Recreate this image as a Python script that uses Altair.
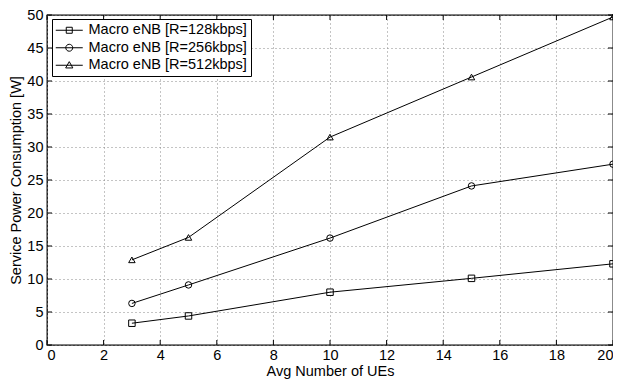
import altair as alt
import pandas as pd

# ---- data ----
x_vals = [3, 5, 10, 15, 20]
p128 = [3.3, 4.4, 8.0, 10.1, 12.3]
p256 = [6.3, 9.1, 16.2, 24.1, 27.4]
p512 = [12.9, 16.3, 31.5, 40.6, 49.7]
series = ["Macro eNB [R=128kbps]", "Macro eNB [R=256kbps]", "Macro eNB [R=512kbps]"]
x_ticks = [0, 2, 4, 6, 8, 10, 12, 14, 16, 18, 20]
y_ticks = [0, 5, 10, 15, 20, 25, 30, 35, 40, 45, 50]

rows = []
for name, vals in zip(series, [p128, p256, p512]):
    for xv, yv in zip(x_vals, vals):
        rows.append({"ues": xv, "power": yv, "series": name})
df = pd.DataFrame(rows)
xt = pd.DataFrame({"ues": x_ticks})
yt = pd.DataFrame({"power": y_ticks})

W, H = 566, 330
FONT = "Liberation Sans"
FS = 14.5
TICK = 5

xscale = alt.Scale(domain=[0, 20], nice=False, zero=False)
yscale = alt.Scale(domain=[0, 50], nice=False, zero=False)

x_axis = alt.Axis(values=x_ticks, title="Avg Number of UEs", labelPadding=3, titlePadding=3)
y_axis = alt.Axis(values=y_ticks, title="Service Power Consumption [W]", labelPadding=4, titlePadding=3)

X = alt.X("ues:Q", scale=xscale, axis=x_axis)
Y = alt.Y("power:Q", scale=yscale, axis=y_axis)

base = alt.Chart(df)

lines = base.mark_line(color="black", strokeWidth=1).encode(x=X, y=Y, detail="series:N")

marker_shapes = ["square", "circle", "triangle-up"]
points = base.mark_point(filled=False, color="black", strokeWidth=1, size=42, opacity=1).encode(
    x=X, y=Y,
    shape=alt.Shape("series:N", scale=alt.Scale(domain=series, range=marker_shapes), legend=None),
)

# legend symbols: short line with the marker on it (unit = 6 px for size 144)
legend_paths = [
    "M-2.25,0H2.25M-0.5,-0.5H0.5V0.5H-0.5Z",
    "M-2.25,0H2.25M-0.58,0A0.58,0.58 0 1,0 0.58,0A0.58,0.58 0 1,0 -0.58,0Z",
    "M-2.25,0H2.25M0,-0.6L0.6,0.45H-0.6Z",
]
legend_layer = base.transform_filter("false").mark_point(
    filled=False, color="black", strokeWidth=1, size=144, opacity=1
).encode(
    x=X, y=Y,
    shape=alt.Shape(
        "series:N",
        scale=alt.Scale(domain=series, range=legend_paths),
        legend=alt.Legend(
            title=None,
            orient="none",
            legendX=5,
            legendY=4,
            fillColor="white",
            strokeColor="black",
            padding=4,
            symbolOffset=6,
            labelOffset=12,
            rowPadding=2.5,
            symbolSize=144,
            symbolStrokeWidth=1,
            symbolStrokeColor="black",
            symbolOpacity=1,
            labelFont=FONT,
            labelFontSize=FS,
            labelColor="black",
        ),
    ),
)

# inward tick marks on all four sides
xt_bottom = alt.Chart(xt).mark_rule(color="black", strokeWidth=1).encode(
    x=X, y=alt.value(H), y2=alt.value(H - TICK))
xt_top = alt.Chart(xt).mark_rule(color="black", strokeWidth=1).encode(
    x=X, y=alt.value(0), y2=alt.value(TICK))
yt_left = alt.Chart(yt).mark_rule(color="black", strokeWidth=1).encode(
    y=Y, x=alt.value(0), x2=alt.value(TICK))
yt_right = alt.Chart(yt).mark_rule(color="black", strokeWidth=1).encode(
    y=Y, x=alt.value(W), x2=alt.value(W - TICK))

chart = alt.layer(
    lines, points, xt_bottom, xt_top, yt_left, yt_right, legend_layer
).resolve_scale(shape="independent").properties(
    width=W,
    height=H,
    autosize=alt.AutoSizeParams(type="none"),
    padding={"left": 39, "top": 7, "right": 0, "bottom": 38},
    background="white",
).configure_view(
    stroke="black", strokeWidth=1.3
).configure_axis(
    labelFont=FONT, labelFontSize=FS, labelColor="black",
    titleFont=FONT, titleFontSize=FS, titleFontWeight="normal", titleColor="black",
    ticks=False, domain=False,
    grid=True, gridColor="#888888", gridDash=[1, 3], gridWidth=1,
)

chart.save("out.html", embed_options={"renderer": "svg", "actions": False})
